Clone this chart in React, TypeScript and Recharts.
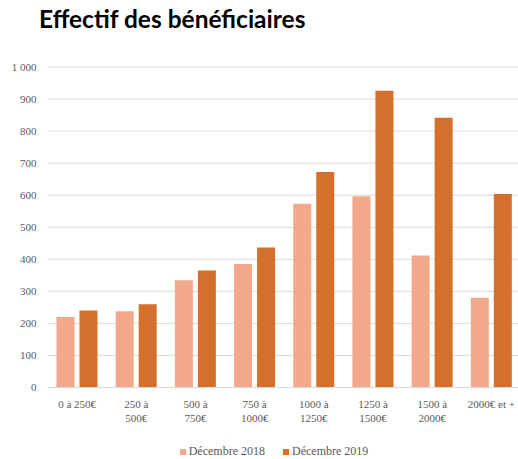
import React from "react"
import { BarChart, Bar, XAxis, YAxis, CartesianGrid } from "recharts"

const categories = [
  "0 à 250€",
  "250 à\n500€",
  "500 à\n750€",
  "750 à\n1000€",
  "1000 à\n1250€",
  "1250 à\n1500€",
  "1500 à\n2000€",
  "2000€ et +",
]
const dec2018 = [220, 238, 335, 385, 573, 597, 412, 280]
const dec2019 = [240, 260, 365, 437, 672, 926, 842, 604]
const yTicks = [0, 100, 200, 300, 400, 500, 600, 700, 800, 900, 1000]

const series = [
  { key: "dec2018", name: "Décembre 2018", color: "#F2A88A" },
  { key: "dec2019", name: "Décembre 2019", color: "#D4702B" },
]

const data = categories.map((c, i) => ({ cat: c, dec2018: dec2018[i], dec2019: dec2019[i] }))

const serif = "'Liberation Serif', 'Times New Roman', serif"

const fmt = (v: number) => (v >= 1000 ? String(v).replace(/(\d)(?=(\d{3})$)/, "$1 ") : String(v))

const CatTick = (props: any) => {
  const { x, y, payload } = props
  const lines = String(payload.value).split("\n")
  return (
    <text x={x} y={y + 12} textAnchor="middle" fill="#595959" fontSize={11} fontFamily={serif}>
      {lines.map((l: string, i: number) => (
        <tspan key={i} x={x} dy={i === 0 ? 0 : 14.5}>
          {l}
        </tspan>
      ))}
    </text>
  )
}

export default function App() {
  return (
    <div style={{ position: "absolute", left: 0, top: 0, width: 518, height: 459, overflow: "hidden", background: "#fff" }}>
      <div
        style={{
          position: "absolute",
          left: 39,
          top: 4,
          fontFamily: "Lato, 'Open Sans', sans-serif",
          fontWeight: 700,
          fontSize: 24.5,
          color: "#000",
          whiteSpace: "nowrap",
        }}
      >
        Effectif des bénéficiaires
      </div>
      <BarChart
        width={521}
        height={459}
        data={data}
        margin={{ top: 67, right: 0, left: 0, bottom: 31.5 }}
        barSize={18}
        barGap={5}
      >
        <CartesianGrid vertical={false} stroke="#d9d9d9" />
        <XAxis
          dataKey="cat"
          height={40}
          interval={0}
          tickLine={false}
          axisLine={{ stroke: "#d9d9d9" }}
          tick={<CatTick />}
        />
        <YAxis
          width={47.5}
          domain={[0, 1000]}
          ticks={yTicks}
          tickFormatter={fmt}
          tickLine={false}
          axisLine={false}
          tickMargin={5}
          tick={{ fill: "#595959", fontSize: 11, fontFamily: serif }}
        />
        {series.map((s) => (
          <Bar key={s.key} dataKey={s.key} name={s.name} fill={s.color} isAnimationActive={false} />
        ))}
      </BarChart>
      <div
        style={{
          position: "absolute",
          left: 0,
          width: 548,
          top: 444,
          display: "flex",
          justifyContent: "center",
          gap: 18,
          fontFamily: serif,
          fontSize: 12,
          color: "#595959",
        }}
      >
        {series.map((s) => (
          <div key={s.key} style={{ display: "flex", alignItems: "center" }}>
            <span style={{ display: "inline-block", width: 6, height: 6, background: s.color, marginRight: 3 }} />
            <span>{s.name}</span>
          </div>
        ))}
      </div>
    </div>
  )
}
